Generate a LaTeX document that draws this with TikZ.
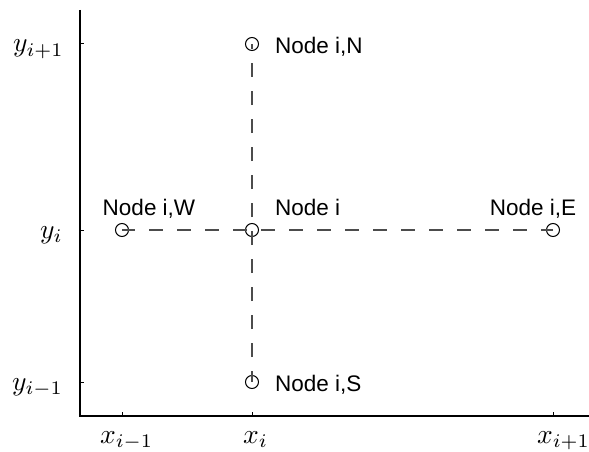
\documentclass[tikz,border=0pt]{standalone}
\usepackage{fontspec}
\setsansfont{Liberation Sans}
\newcommand{\bigmath}[1]{\scalebox{2.75}{$#1$}}
\begin{document}
\begin{tikzpicture}[x=1pt,y=-1pt,
  axisline/.style={line width=1.2pt,black},
  tickmark/.style={line width=1pt,black},
  gridline/.style={line width=1.1pt,black!70,dash pattern=on 14pt off 14pt},
  gridpt/.style={circle,draw,line width=1pt,minimum size=13pt,inner sep=0pt},
  nodelabel/.style={font=\sffamily\fontsize{22.5}{26}\selectfont,inner sep=0pt},
  ticklabel/.style={inner sep=0pt,anchor=base west}]
\useasboundingbox (0,0) rectangle (589,452);
% axes
\coordinate (top) at (80,10);
\coordinate (orig) at (80,416);
\coordinate (right) at (589,416);
\draw[axisline] (top) -- (orig) -- (right);
% ticks
\foreach \yy in {44,230,382} \draw[tickmark] (80,\yy) -- (84,\yy);
\foreach \xx in {122,252,553} \draw[tickmark] (\xx,416) -- (\xx,412);
% grid points
\node[gridpt] (C) at (252,230) {};
\node[gridpt] (W) at (122,230) {};
\node[gridpt] (E) at (553,230) {};
\node[gridpt] (N) at (252,44) {};
\node[gridpt] (S) at (252,382) {};
% connecting dashed lines
\draw[gridline,dash phase=1pt] (W.center) -- (C.center) -- (E.center);
\draw[gridline,dash phase=3pt] (S.center) -- (C.center) -- (N.center);
% node labels
\node[nodelabel,anchor=base west] (lN) at (275,54) {Node i,N};
\node[nodelabel,anchor=base west] (lC) at (275,215) {Node i};
\node[nodelabel,anchor=base] (lW) at (149,215) {Node i,W};
\node[nodelabel,anchor=base] (lE) at (533,215) {Node i,E};
\node[nodelabel,anchor=base west] (lS) at (275,391) {Node i,S};
% tick labels
\node[ticklabel] (y1) at (13,52) {\bigmath{y_{i+1}}};
\node[ticklabel] (y0) at (40,238) {\bigmath{y_{i}}};
\node[ticklabel] (ym) at (12,390) {\bigmath{y_{i-1}}};
\node[ticklabel] (xm) at (100,443) {\bigmath{x_{i-1}}};
\node[ticklabel] (x0) at (243,443) {\bigmath{x_{i}}};
\node[ticklabel] (x1) at (537,443) {\bigmath{x_{i+1}}};
\end{tikzpicture}
\end{document}
